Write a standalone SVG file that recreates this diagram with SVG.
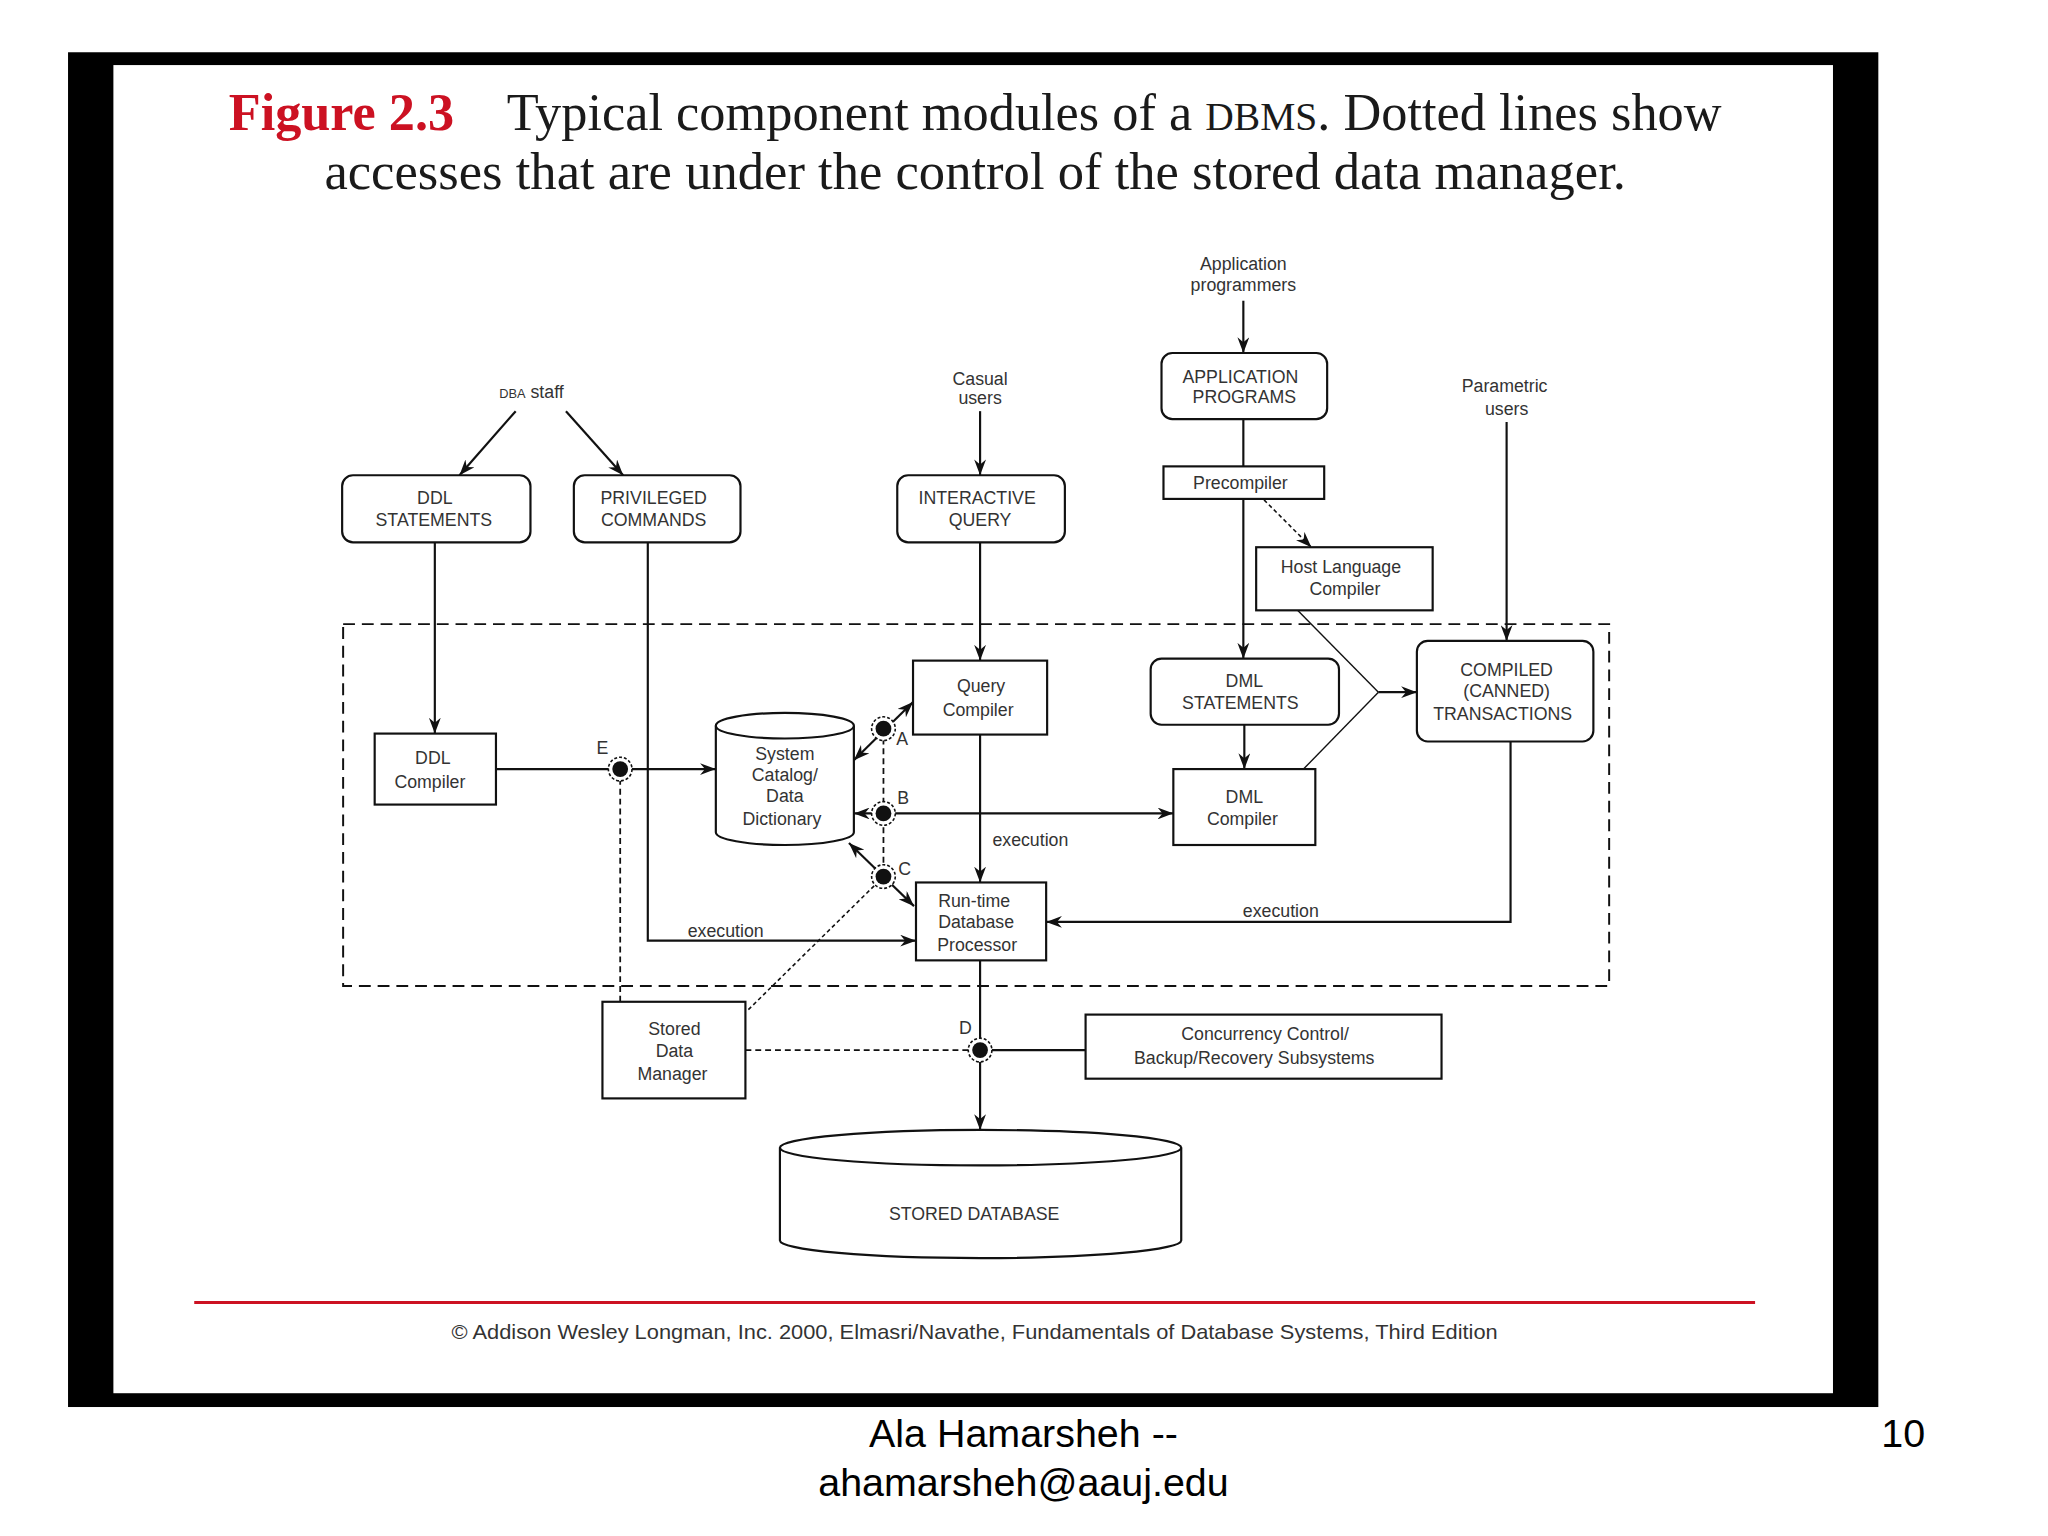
<svg xmlns="http://www.w3.org/2000/svg" width="2048" height="1536" viewBox="0 0 2048 1536">
<style>
.box{fill:#fff;stroke:#111;stroke-width:2.2}
.ln{fill:none;stroke:#111;stroke-width:2.2}
.thin{fill:none;stroke:#111;stroke-width:1.4}
.dash{fill:none;stroke:#111;stroke-width:2;stroke-dasharray:12 7}
.sdash{fill:none;stroke:#111;stroke-width:1.8;stroke-dasharray:6 4}
.dot{fill:none;stroke:#111;stroke-width:1.6;stroke-dasharray:4 3}
.ring{fill:#fff;stroke:#111;stroke-width:1.6;stroke-dasharray:3 2}
.t{font-family:"Liberation Sans",Arial,sans-serif;font-size:18px;fill:#333;text-anchor:middle}
.lbl{font-family:"Liberation Sans",Arial,sans-serif;font-size:18px;fill:#333}
.cap{font-family:"Liberation Serif","Times New Roman",serif;font-size:53px;fill:#1a1a1a}
.foot{font-family:"Liberation Sans",Arial,sans-serif;font-size:40px;fill:#000}
</style>
<defs>
<marker id="ah" viewBox="0 0 16 12" refX="16" refY="6" markerWidth="16" markerHeight="12" markerUnits="userSpaceOnUse" orient="auto-start-reverse">
<path d="M0,0 L16,6 L0,12 L5,6 z" fill="#111"/>
</marker>
</defs>
<rect x="0" y="0" width="2048" height="1536" fill="#fff"/>
<g id="page" transform="scale(0.986)">
<rect x="69" y="53" width="1836" height="1374" fill="#000"/>
<rect x="115" y="66" width="1744" height="1347" fill="#fff"/>

<g id="caption">
<text x="232" y="132" class="cap" style="font-weight:bold;fill:#cc1122">Figure 2.3</text>
<text x="514" y="132" class="cap" textLength="1232" lengthAdjust="spacingAndGlyphs">Typical component modules of a <tspan font-size="40">DBMS</tspan>. Dotted lines show</text>
<text x="329" y="192" class="cap" textLength="1320" lengthAdjust="spacingAndGlyphs">accesses that are under the control of the stored data manager.</text>
</g>

<g id="system-boundary">
<rect x="348" y="633" width="1284" height="367" class="dash"/>
</g>

<g id="connectors">
<line x1="523" y1="417" x2="466" y2="482" class="ln" marker-end="url(#ah)"/>
<line x1="574" y1="417" x2="632" y2="482" class="ln" marker-end="url(#ah)"/>
<line x1="994" y1="417" x2="994" y2="482" class="ln" marker-end="url(#ah)"/>
<line x1="1261" y1="305" x2="1261" y2="358" class="ln" marker-end="url(#ah)"/>
<line x1="1261" y1="425" x2="1261" y2="473" class="ln"/>
<line x1="1261" y1="506" x2="1261" y2="668" class="ln" marker-end="url(#ah)"/>
<line x1="1282" y1="507" x2="1330" y2="555" class="dot" marker-end="url(#ah)"/>
<line x1="1528" y1="428" x2="1528" y2="650" class="ln" marker-end="url(#ah)"/>
<line x1="441" y1="550" x2="441" y2="744" class="ln" marker-end="url(#ah)"/>
<path d="M657,550 V954 H929" class="ln" marker-end="url(#ah)"/>
<line x1="994" y1="550" x2="994" y2="670" class="ln" marker-end="url(#ah)"/>
<line x1="1262" y1="735" x2="1262" y2="780" class="ln" marker-end="url(#ah)"/>
<line x1="1316" y1="619" x2="1398" y2="702" class="thin"/>
<line x1="1322" y1="780" x2="1398" y2="702" class="thin"/>
<line x1="1398" y1="702" x2="1437" y2="702" class="ln" marker-end="url(#ah)"/>
<line x1="503" y1="780" x2="726" y2="780" class="ln" marker-end="url(#ah)"/>
<line x1="994" y1="745" x2="994" y2="895" class="ln" marker-end="url(#ah)"/>
<line x1="866" y1="771" x2="926" y2="712" class="ln" marker-start="url(#ah)" marker-end="url(#ah)"/>
<line x1="866" y1="825" x2="1190" y2="825" class="ln" marker-start="url(#ah)" marker-end="url(#ah)"/>
<line x1="896" y1="889" x2="861" y2="855" class="ln" marker-end="url(#ah)"/>
<line x1="896" y1="889" x2="927" y2="919" class="ln" marker-end="url(#ah)"/>
<path d="M1532,752 V935 H1061" class="ln" marker-end="url(#ah)"/>
<line x1="896" y1="739" x2="896" y2="889" class="sdash"/>
<line x1="629" y1="780" x2="629" y2="1016" class="sdash"/>
<line x1="759" y1="1024" x2="888" y2="897" class="dot"/>
<line x1="756" y1="1065" x2="994" y2="1065" class="sdash"/>
<line x1="994" y1="1065" x2="1101" y2="1065" class="ln"/>
<line x1="994" y1="974" x2="994" y2="1146" class="ln" marker-end="url(#ah)"/>
<text x="736" y="950" class="t">execution</text>
<text x="1045" y="858" class="t">execution</text>
<text x="1299" y="930" class="t">execution</text>
</g>

<g id="access-points">
<g id="pt-E"><circle cx="629" cy="780" r="12" class="ring"/><circle cx="629" cy="780" r="8" fill="#111"/><text x="611" y="765" class="t">E</text></g>
<g id="pt-A"><circle cx="896" cy="739" r="12" class="ring"/><circle cx="896" cy="739" r="8" fill="#111"/><text x="909" y="756" class="lbl">A</text></g>
<g id="pt-B"><circle cx="896" cy="825" r="12" class="ring"/><circle cx="896" cy="825" r="8" fill="#111"/><text x="910" y="815" class="lbl">B</text></g>
<g id="pt-C"><circle cx="896" cy="889" r="12" class="ring"/><circle cx="896" cy="889" r="8" fill="#111"/><text x="911" y="887" class="lbl">C</text></g>
<g id="pt-D"><circle cx="994" cy="1065" r="12" class="ring"/><circle cx="994" cy="1065" r="8" fill="#111"/><text x="979" y="1049" class="t">D</text></g>
</g>

<g id="actor-dba"><text x="539" y="404" class="t"><tspan font-size="13">DBA</tspan> staff</text></g>
<g id="actor-casual"><text x="994" y="390" class="t">Casual</text><text x="994" y="410" class="t">users</text></g>
<g id="actor-app"><text x="1261" y="274" class="t">Application</text><text x="1261" y="295" class="t">programmers</text></g>
<g id="actor-param"><text x="1526" y="398" class="t">Parametric</text><text x="1528" y="421" class="t">users</text></g>

<g id="ddl-statements"><rect x="347" y="482" width="191" height="68" rx="11" class="box"/><text x="441" y="511" class="t">DDL</text><text x="440" y="533" class="t">STATEMENTS</text></g>
<g id="privileged-commands"><rect x="582" y="482" width="169" height="68" rx="11" class="box"/><text x="663" y="511" class="t">PRIVILEGED</text><text x="663" y="533" class="t">COMMANDS</text></g>
<g id="interactive-query"><rect x="910" y="482" width="170" height="68" rx="11" class="box"/><text x="991" y="511" class="t">INTERACTIVE</text><text x="994" y="533" class="t">QUERY</text></g>
<g id="application-programs"><rect x="1178" y="358" width="168" height="67" rx="11" class="box"/><text x="1258" y="388" class="t">APPLICATION</text><text x="1262" y="409" class="t">PROGRAMS</text></g>
<g id="precompiler"><rect x="1180" y="473" width="163" height="33" class="box"/><text x="1258" y="496" class="t">Precompiler</text></g>
<g id="host-language-compiler"><rect x="1274" y="555" width="179" height="64" class="box"/><text x="1360" y="581" class="t">Host Language</text><text x="1364" y="603" class="t">Compiler</text></g>
<g id="compiled-transactions"><rect x="1437" y="650" width="179" height="102" rx="11" class="box"/><text x="1528" y="686" class="t">COMPILED</text><text x="1528" y="707" class="t">(CANNED)</text><text x="1524" y="730" class="t">TRANSACTIONS</text></g>
<g id="dml-statements"><rect x="1167" y="668" width="191" height="67" rx="11" class="box"/><text x="1262" y="697" class="t">DML</text><text x="1258" y="719" class="t">STATEMENTS</text></g>
<g id="dml-compiler"><rect x="1190" y="780" width="144" height="77" class="box"/><text x="1262" y="814" class="t">DML</text><text x="1260" y="837" class="t">Compiler</text></g>
<g id="query-compiler"><rect x="926" y="670" width="136" height="75" class="box"/><text x="995" y="702" class="t">Query</text><text x="992" y="726" class="t">Compiler</text></g>
<g id="ddl-compiler"><rect x="380" y="744" width="123" height="72" class="box"/><text x="439" y="775" class="t">DDL</text><text x="436" y="799" class="t">Compiler</text></g>
<g id="system-catalog">
<path d="M726,736 V844 A70,13 0 0 0 866,844 V736" class="box"/>
<ellipse cx="796" cy="736" rx="70" ry="13" class="box"/>
<text x="796" y="771" class="t">System</text><text x="796" y="792" class="t">Catalog/</text><text x="796" y="813" class="t">Data</text><text x="793" y="837" class="t">Dictionary</text>
</g>
<g id="runtime-processor"><rect x="929" y="895" width="132" height="79" class="box"/><text x="988" y="920" class="t">Run-time</text><text x="990" y="941" class="t">Database</text><text x="991" y="964" class="t">Processor</text></g>
<g id="stored-data-manager"><rect x="611" y="1016" width="145" height="98" class="box"/><text x="684" y="1050" class="t">Stored</text><text x="684" y="1072" class="t">Data</text><text x="682" y="1095" class="t">Manager</text></g>
<g id="concurrency-control"><rect x="1101" y="1029" width="361" height="65" class="box"/><text x="1283" y="1055" class="t">Concurrency Control/</text><text x="1272" y="1079" class="t">Backup/Recovery Subsystems</text></g>
<g id="stored-database">
<path d="M791,1164 V1258 A203.5,18 0 0 0 1198,1258 V1164" class="box"/>
<ellipse cx="994.5" cy="1164" rx="203.5" ry="18" class="box"/>
<text x="988" y="1237" class="t">STORED DATABASE</text>
</g>

<g id="credits">
<line x1="197" y1="1321" x2="1780" y2="1321" stroke="#cc1122" stroke-width="3"/>
<text x="458" y="1358" textLength="1061" lengthAdjust="spacingAndGlyphs" style="font-family:'Liberation Sans',Arial,sans-serif;font-size:21px;fill:#333">© Addison Wesley Longman, Inc. 2000, Elmasri/Navathe, Fundamentals of Database Systems, Third Edition</text>
</g>

<g id="footer">
<text x="1038" y="1468" class="foot" text-anchor="middle">Ala Hamarsheh --</text>
<text x="1038" y="1517" class="foot" text-anchor="middle">ahamarsheh@aauj.edu</text>
<text x="1908" y="1468" class="foot">10</text>
</g>
</g>
</svg>
